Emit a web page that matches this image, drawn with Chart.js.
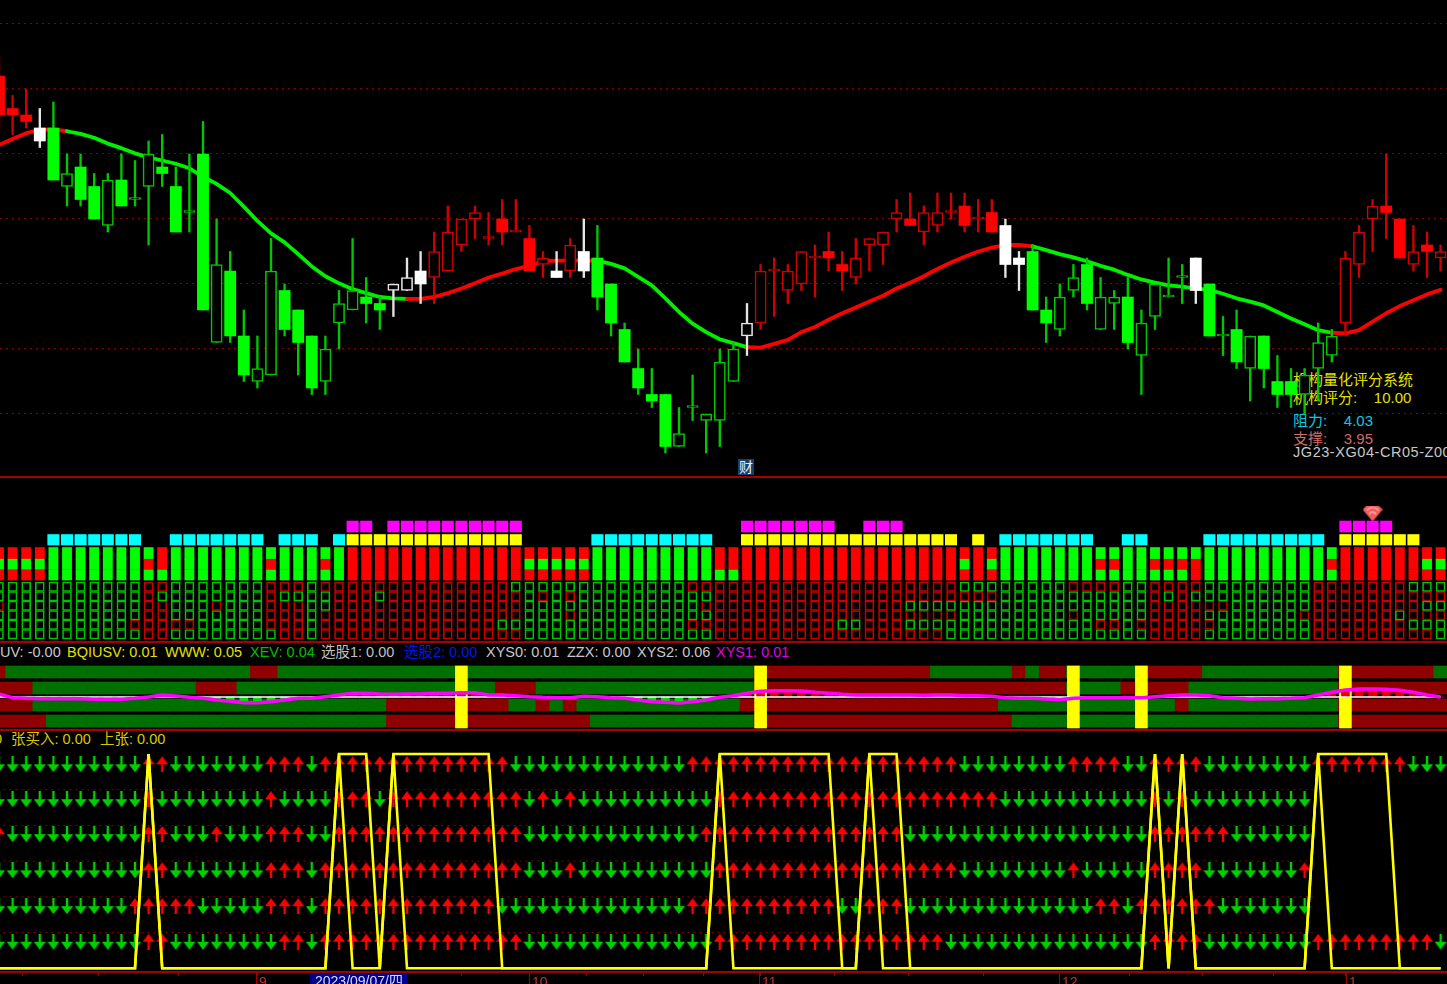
<!DOCTYPE html>
<html><head><meta charset="utf-8">
<script src="https://cdn.jsdelivr.net/npm/chart.js@4"></script>
<style>
html,body{margin:0;padding:0;background:#000;overflow:hidden;width:1447px;height:984px}
#stage{position:relative;width:1447px;height:984px;overflow:hidden;font-family:"Liberation Sans","Noto Sans CJK SC",sans-serif}
canvas{position:absolute;left:0}
.t{position:absolute;white-space:pre;line-height:1;z-index:1;font-size:14.5px}
.sep{position:absolute;left:0;width:1447px;height:1.5px;background:#a80000;z-index:3}
.month{position:absolute;top:972px;height:14px;border-left:1.5px solid #a00000;padding:3px 0 0 2px;color:#c03030;font-size:14px;line-height:1;z-index:3}
</style></head><body><div id="stage">
<div class="t" style="left:1293px;top:372px;color:#e0e000;font-size:15px">机构量化评分系统</div>
<div class="t" style="left:1293px;top:390px;color:#e0e000;font-size:15px">机构评分:    10.00</div>
<div class="t" style="left:1293px;top:413px;color:#10c8e0;font-size:15px">阻力:    4.03</div>
<div class="t" style="left:1293px;top:431px;color:#d06a6a;font-size:15px">支撑:    3.95</div>
<div class="t" style="left:1293px;top:445px;color:#c8c8c8;letter-spacing:0.55px">JG23-XG04-CR05-Z00</div>
<div class="t" style="left:738px;top:459px;width:16px;height:16px;background:#14406e;color:#e8f0ff;font-size:14px;line-height:16px;text-align:center;z-index:3">财</div>

<div class="t" style="left:0;top:645px;color:#c8c8c8">UV: -0.00</div>
<div class="t" style="left:67px;top:645px;color:#e0e000">BQIUSV: 0.01</div>
<div class="t" style="left:165px;top:645px;color:#e0e000">WWW: 0.05</div>
<div class="t" style="left:250px;top:645px;color:#00c000">XEV: 0.04</div>
<div class="t" style="left:321px;top:645px;color:#c0c0c0">选股1: 0.00</div>
<div class="t" style="left:404px;top:645px;color:#0018e8">选股2: 0.00</div>
<div class="t" style="left:486px;top:645px;color:#c8c8c8">XYS0: 0.01</div>
<div class="t" style="left:567px;top:645px;color:#c8c8c8">ZZX: 0.00</div>
<div class="t" style="left:637px;top:645px;color:#c8c8c8">XYS2: 0.06</div>
<div class="t" style="left:716px;top:645px;color:#e000e0">XYS1: 0.01</div>

<div class="t" style="left:-6px;top:732px;color:#d8c800">0</div>
<div class="t" style="left:11px;top:732px;color:#d8c800">张买入: 0.00</div>
<div class="t" style="left:100px;top:732px;color:#d8c800">上张: 0.00</div>

<div class="sep" style="top:476px"></div>
<div class="sep" style="top:641px"></div>
<div class="sep" style="top:729px"></div>

<div class="month" style="left:256px">9</div>
<div class="t" style="left:310px;top:974px;width:92px;height:12px;padding-left:5px;background:#00008c;color:#d8d8ff;font-size:14px;z-index:4">2023/09/07/四</div>
<div class="month" style="left:529px">10</div>
<div class="month" style="left:759px">11</div>
<div class="month" style="left:1059px">12</div>
<div class="month" style="left:1346px">1</div>

<canvas id="cMain" width="1447" height="476" style="top:0;z-index:2"></canvas>
<canvas id="cBlocks" width="1447" height="163" style="top:478px;z-index:2"></canvas>
<canvas id="cBands" width="1447" height="66" style="top:664px;z-index:2"></canvas>
<canvas id="cSignals" width="1447" height="254" style="top:730px;z-index:2"></canvas>
</div>
<script>
// ---------- price bars, in cents, one entry per trading day ----------
const opens  = [432,427,426,424,424,415,418,415,409,416,413,415,418,415,411,420,391,402,392,385,386,399,396,392,385,394,396,398,397,399,399,402,401,402,406,410,407,410,408,407,403,402,402,405,404,400,393,387,383,383,375,381,379,379,385,392,394,402,399,400,404,405,403,401,406,406,410,410,408,409,411,412,410,411,409,404,405,396,393,399,403,393,397,398,389,395,398,401,404,400,392,393,387,392,385,385,383,387,389,394,403,410,412,410,403,406,404];
const highs  = [435,429,430,427,428,420,420,417,417,420,419,422,423,418,420,425,410,405,396,392,407,400,396,392,392,399,407,401,398,400,404,405,408,412,410,412,411,413,413,409,405,405,407,410,409,400,394,390,387,383,381,386,380,390,391,397,403,404,403,405,406,408,405,407,407,408,413,414,412,414,414,414,413,413,410,405,406,398,400,403,404,401,399,401,396,400,404,403,404,400,395,396,392,392,389,387,387,394,393,405,409,413,420,410,409,408,406];
const lows   = [424,423,424,421,416,412,412,410,408,412,412,406,415,408,408,396,391,391,385,384,386,392,386,383,383,390,396,394,393,395,399,397,397,402,405,407,406,406,408,402,401,401,401,401,396,392,388,383,381,374,375,379,374,375,385,389,393,395,397,399,398,402,399,400,402,403,408,409,406,408,410,408,408,408,401,399,396,391,392,398,396,393,393,390,383,393,398,397,397,392,389,387,382,384,381,381,380,382,388,392,401,405,407,404,402,401,402];
const closes = [426,426,425,422,416,417,413,410,416,412,413,420,417,408,411,396,403,392,386,387,402,393,391,384,390,397,399,397,396,400,401,400,405,408,410,411,407,408,408,402,404,401,406,402,398,394,388,384,382,375,377,381,380,388,390,394,402,402,402,405,404,404,402,404,407,408,411,409,411,411,411,409,410,408,403,403,396,394,398,401,397,398,398,391,394,400,398,401,399,392,392,388,392,387,383,383,386,391,392,404,408,412,411,404,405,405,405];
const greenCandles = [[4,28],[44,54],[76,87],[89,98]];
const whiteCandles = [[3,3],[29,31],[41,41],[43,43],[55,55],[74,75],[88,88]];

// ---------- moving average, in cents ----------
const maValues = [421.4,422.3,423.2,423.7,423.8,423.5,423.1,422.5,421.6,420.9,420.1,419.5,419,418.5,417.8,416.5,415.4,414,411.9,409.7,407.8,406.4,404.6,402.7,401.2,400.1,399.2,398.6,398,397.8,397.7,397.7,398,398.6,399.3,400.1,401,401.6,402.3,402.8,403.5,403.6,403.6,403.6,403.6,403.1,402.4,401.1,399.8,397.8,395.7,393.9,392.6,391.5,390.9,390.3,390.2,390.8,391.4,392.6,393.4,394.5,395.5,396.4,397.3,398.2,399.3,400.2,401.2,402.3,403.3,404.2,405,405.6,406,406,405.8,405.2,404.6,404.1,403.5,402.8,402.2,401.4,400.7,400.2,399.8,399.6,399.3,399.1,398.5,397.8,397.3,396.7,395.7,394.7,393.8,392.9,392.5,392.4,392.9,394.2,395.5,396.6,397.5,398.4,399.1];
const maGreenSpans = [[5,30],[44,55],[76,98]];

// ---------- score blocks ----------
const magentaDays = [[26,27],[29,38],[55,61],[64,66],[99,102]];
const yellowDays  = [[26,38],[55,70],[72,72],[99,104]];
const cyanDays    = [[4,10],[13,19],[21,23],[25,25],[44,52],[74,80],[83,84],[89,97]];
const gemDay = 101;
const blockAGreen = [[4,11],[13,25],[44,52],[74,98]];
const blockBGreen = [[0,10],[13,19],[21,23],[25,25],[39,52],[71,71],[73,80],[83,84],[89,97],[105,106]];
const blockCGreen = [[4,25],[44,54],[74,87],[89,98]];

// ---------- six signal rows: days on which the signal points up (red) ----------
const signalUp1 = [[11,12],[20,22],[24,37],[51,70],[79,82],[85,88],[97,103]];
const signalUp2 = [[11,11],[20,20],[25,27],[29,38],[40,40],[42,42],[53,73],[85,85],[87,87],[97,106]];
const signalUp3 = [[0,0],[11,12],[16,16],[20,22],[25,38],[52,66],[85,90],[97,104]];
const signalUp4 = [[11,12],[20,22],[24,38],[42,42],[53,70],[79,79],[85,88],[96,102],[104,106]];
const signalUp5 = [[10,14],[20,22],[24,36],[51,61],[64,66],[81,82],[84,89],[97,103]];
const signalUp6 = [[11,12],[21,22],[24,38],[53,69],[85,88],[97,105]];
const arrowLastDay = [106,96,96,96,96,106];

// ---------- oscillator panel ----------
const bandRed1 = [[0,0],[19,20],[56,68],[75,75],[77,78],[85,88],[99,105]];
const bandRed2 = [[0,2],[15,17],[37,39],[56,78],[83,87],[99,106]];
const bandRed3 = [[0,2],[29,37],[40,40],[42,42],[55,73],[87,87],[99,106]];
const bandRed4 = [[0,3],[29,43],[56,74],[99,106]];
const alertDays = [34,56,79,84,99];
const oscillator = [9,-2,-4,-5,-5,-5,-5,-7,-7,-7,-4,0,6,3,-1,-4,-9,-13,-17,-17,-14,-9,-4,-4,1,6,11,11,9,8,9,9,11,11,13,13,6,6,4,1,-1,-2,-2,2,1,-2,-4,-9,-14,-16,-18,-14,-9,-1,4,11,17,19,19,18,14,11,8,6,6,6,6,6,5,6,6,4,4,2,-2,-4,-4,-6,-8,-4,-2,-2,-2,-2,-2,1,4,6,6,4,-2,-4,-6,-5,-5,-4,-2,6,14,21,24,24,23,20,14,6,0];

// ---------- trade state line ----------
const holdSpans  = [[11,11],[25,27],[29,36],[53,61],[64,66],[85,85],[87,87],[97,102]];
const entryDays  = [11,25,29,53,64,85,87,97];
const gridFractions = [1/6,2/6,3/6,4/6,5/6];
const axisMinorTicks = [1.7,7.35,13.2,19,34,39,43.2,47.4,51.8,56,61.4,66.9,72.4,78,83.1,88.5,93.7,99];

// ---------- helpers ----------
const DAYS = opens.map((_, i) => i);
const inSpans = (spans, i) => spans.some(s => i >= s[0] && i <= s[1]);
const RED = '#ff0000', GREEN = '#00ff00', WHITE = '#ffffff';
const XMIN = 1/13.6, XMAX = 1448/13.6;
const hiddenX = {type:'linear', display:false, min:XMIN, max:XMAX, offset:false, grid:{display:false}};
const hiddenY = (min,max) => ({type:'linear', display:false, min, max, grid:{display:false}});
const base = {responsive:false, animation:false, devicePixelRatio:1,
  layout:{padding:0, autoPadding:false}, events:[], plugins:{legend:{display:false}, tooltip:{enabled:false}}};

// ---------- main price chart ----------
const stateOf = i => inSpans(whiteCandles,i) ? 'w' : inSpans(greenCandles,i) ? 'g' : 'r';
const solid = {w:WHITE, g:GREEN, r:RED};
const stroke = {w:'#e4e4e4', g:'#00c800', r:'#d00000'};
const isHollow = i => closes[i] >= opens[i];
new Chart(document.getElementById('cMain'), {
  type:'bar',
  data:{datasets:[
    {type:'line', order:3, data:DAYS.map(i=>({x:i,y:maValues[i]})), borderWidth:3.8, pointRadius:0, tension:0,
     borderColor:RED, borderCapStyle:'round', borderJoinStyle:'round',
     segment:{borderColor:c=>inSpans(maGreenSpans,c.p0DataIndex)&&c.p0DataIndex<maGreenSpans.find(s=>c.p0DataIndex>=s[0]&&c.p0DataIndex<=s[1])[1]?'#00f000':RED}},
    {order:2, grouped:false, barThickness:1.7, data:DAYS.map(i=>({x:i,y:[lows[i],highs[i]]})),
     backgroundColor:DAYS.map(i=>stroke[stateOf(i)]), borderWidth:0},
    {order:1, grouped:false, barThickness:11.2, minBarLength:2, data:DAYS.map(i=>({x:i,y:[opens[i],closes[i]]})),
     backgroundColor:DAYS.map(i=>isHollow(i)?'#000000':solid[stateOf(i)]),
     borderColor:DAYS.map(i=>isHollow(i)?stroke[stateOf(i)]:solid[stateOf(i)]),
     borderWidth:DAYS.map(i=>isHollow(i)?1.6:0), borderSkipped:false}
  ]},
  options:{...base, scales:{x:hiddenX,
    y:{type:'linear', min:400-192/6.5, max:400+284/6.5, display:true, afterFit:s=>{s.width=0},
       ticks:{display:false, stepSize:10, includeBounds:false},
       border:{display:false, dash:[2,4]}, grid:{color:'#8c0000', lineWidth:1, drawTicks:false}}}}
});

// ---------- score blocks and hollow cells ----------
function gemImage(){
  const c=document.createElement('canvas'); c.width=20; c.height=16;
  const g=c.getContext('2d');
  g.fillStyle='#f45c5c'; g.beginPath();
  g.moveTo(4,0);g.lineTo(16,0);g.lineTo(20,4);g.lineTo(10,16);g.lineTo(0,4);g.closePath();g.fill();
  g.strokeStyle='#ffc0c0'; g.lineWidth=1.2;
  g.beginPath();g.arc(10,9,7,Math.PI*1.2,Math.PI*1.8);g.stroke();
  g.beginPath();g.arc(10,10,3.5,Math.PI*1.1,Math.PI*1.9);g.stroke();
  return c;
}
const tileSet = (days, lo, hi, color) => ({grouped:false, barThickness:11.4, borderWidth:0, backgroundColor:color,
  data:DAYS.filter(i=>inSpans(days,i)).map(i=>({x:i,y:[lo,hi]}))});
const segSet = (green, lo, hi) => ({grouped:false, barThickness:9.2, borderWidth:0,
  backgroundColor:DAYS.map(i=>inSpans(green,i)?GREEN:RED), data:DAYS.map(i=>({x:i,y:[lo,hi]}))});
const signalRows = [signalUp1,signalUp2,signalUp3,signalUp4,signalUp5,signalUp6];
const cellSets = signalRows.map((ups,r)=>({grouped:false, barThickness:9, borderWidth:1, borderSkipped:false,
  backgroundColor:'rgba(0,0,0,0)', borderColor:DAYS.map(i=>inSpans(ups,i)?'#c80000':'#00c400'),
  data:DAYS.map(i=>({x:i,y:[5-r+0.05,6-r+0.05]}))}));
new Chart(document.getElementById('cBlocks'), {
  type:'bar',
  data:{datasets:[
    ...cellSets,
    segSet(blockCGreen,6.26,7.32), segSet(blockBGreen,7.37,8.45), segSet(blockAGreen,8.45,9.68),
    tileSet(yellowDays,9.95,11.05,'#ffff00'), tileSet(cyanDays,9.95,11.05,'#00ffff'),
    tileSet(magentaDays,11.32,12.47,'#ff00ff'),
    {type:'scatter', data:[{x:gemDay,y:13.26}], pointStyle:gemImage(), pointRadius:10}
  ]},
  options:{...base, scales:{x:hiddenX, y:hiddenY(-0.158,17)}}
});

// ---------- oscillator bands ----------
const bandSet = (reds, lo, hi) => ({order:5, grouped:false, barThickness:14, borderWidth:0,
  backgroundColor:DAYS.map(i=>inSpans(reds,i)?'#900000':'#007000'), data:DAYS.map(i=>({x:i,y:[lo,hi]}))});
new Chart(document.getElementById('cBands'), {
  type:'bar',
  data:{datasets:[
    bandSet(bandRed1,57,93), bandSet(bandRed2,9,45), bandSet(bandRed3,-42,-6), bandSet(bandRed4,-90,-54),
    {order:4, grouped:false, barThickness:12, borderWidth:0, backgroundColor:'#ffff00', data:alertDays.map(i=>({x:i,y:[-93,93]}))},
    {order:3, grouped:false, barThickness:8, borderWidth:0, backgroundColor:DAYS.map(i=>oscillator[i]<0?'#00e000':'#e00000'), data:DAYS.map(i=>({x:i,y:[0,oscillator[i]]}))},
    {type:'line', order:2, data:[{x:0,y:0},{x:106,y:0}], borderColor:'#ffffff', borderWidth:1.5, pointRadius:0},
    {type:'line', order:1, data:DAYS.map(i=>({x:i,y:oscillator[i]})), borderColor:'#ff00ff', borderWidth:3.5, pointRadius:0, tension:0}
  ]},
  options:{...base, scales:{x:hiddenX, y:hiddenY(-99,99)}}
});

// ---------- arrows and state line ----------
function arrowImage(up,color){
  const c=document.createElement('canvas'); c.width=12; c.height=16;
  const g=c.getContext('2d'); g.fillStyle=color; g.beginPath();
  if(up){ g.moveTo(6,0);g.lineTo(12,8);g.lineTo(7.2,8);g.lineTo(7.2,16);g.lineTo(4.8,16);g.lineTo(4.8,8);g.lineTo(0,8); }
  else  { g.moveTo(6,16);g.lineTo(12,8);g.lineTo(7.2,8);g.lineTo(7.2,0);g.lineTo(4.8,0);g.lineTo(4.8,8);g.lineTo(0,8); }
  g.closePath(); g.fill(); return c;
}
const rowLevels = [0.952,0.789,0.626,0.457,0.29,0.124];
const upImg = arrowImage(true,'#ff0000'), downImg = arrowImage(false,'#00d000');
const arrowSets = signalRows.flatMap((ups,r)=>[
  {order:2, pointStyle:upImg, pointRadius:8, data:DAYS.filter(i=>i<=arrowLastDay[r]&&inSpans(ups,i)).map(i=>({x:i,y:rowLevels[r]}))},
  {order:2, pointStyle:downImg, pointRadius:8, data:DAYS.filter(i=>i<=arrowLastDay[r]&&!inSpans(ups,i)).map(i=>({x:i,y:rowLevels[r]}))}
]);
const gridSets = gridFractions.map(f=>({type:'line', order:3, data:[{x:-1,y:f},{x:96.6,y:f}], borderColor:'#8c0000', borderWidth:1, borderDash:[2,4], pointRadius:0}));
const holdLine = DAYS.map(i=>({x:i,y:inSpans(holdSpans,i)?1:0}));
const entryLine = DAYS.map(i=>({x:i,y:entryDays.includes(i)?1:0}));
new Chart(document.getElementById('cSignals'), {
  type:'scatter',
  data:{datasets:[
    ...gridSets, ...arrowSets,
    {type:'line', order:1, data:holdLine, borderColor:'#ffff00', borderWidth:2.6, pointRadius:0, tension:0},
    {type:'line', order:1, data:entryLine, borderColor:'#ffff00', borderWidth:2.6, pointRadius:0, tension:0}
  ]},
  options:{...base, scales:{
    x:{type:'linear', display:true, min:XMIN, max:XMAX, position:'bottom', offset:false,
       afterBuildTicks:s=>{s.ticks=axisMinorTicks.map(v=>({value:v}))}, afterFit:s=>{s.height=12},
       ticks:{display:false, autoSkip:false},
       border:{display:true,color:'#a00000',width:2},
       grid:{drawOnChartArea:false, drawTicks:true, tickLength:4, tickColor:'#a00000', color:'#a00000'}},
    y:hiddenY(-3.7/214.3,1+24/214.3)}}
});
</script></body></html>
